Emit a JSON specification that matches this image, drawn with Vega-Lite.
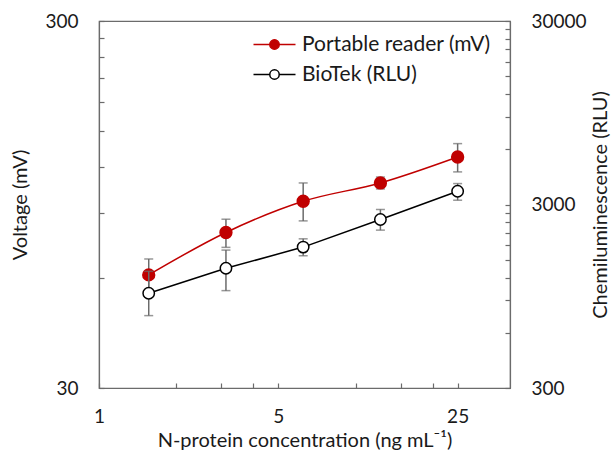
{
  "$schema": "https://vega.github.io/schema/vega-lite/v6.json",
  "width": 411,
  "height": 367,
  "autosize": {"type": "none"},
  "padding": {"left": 99, "top": 21, "right": 106, "bottom": 64},
  "background": "white",
  "config": {
    "font": "Lato",
    "view": {"stroke": "#6b6b6b", "strokeWidth": 1.2},
    "axis": {
      "grid": false,
      "domainColor": "#6b6b6b",
      "domainWidth": 1.2,
      "tickColor": "#6b6b6b",
      "tickWidth": 1.2,
      "tickSize": -5,
      "labelFont": "Lato",
      "labelFontSize": 19,
      "labelColor": "#1a1a1a",
      "titleFont": "Lato",
      "titleFontSize": 20,
      "titleFontWeight": "normal",
      "titleColor": "#1a1a1a",
      "labelOverlap": false,
      "labelFlush": false
    },
    "legend": {
      "orient": "none",
      "legendX": 164,
      "legendY": 12,
      "symbolType": "M-2,0H-0.45M0.45,0H2M0.45,0A0.45,0.45,0,1,1,-0.45,0A0.45,0.45,0,1,1,0.45,0Z",
      "symbolSize": 441,
      "symbolStrokeWidth": 1.5,
      "labelFont": "Lato",
      "labelFontSize": 21,
      "labelColor": "#1a1a1a",
      "labelOffset": 16,
      "labelLimit": 400,
      "rowPadding": 8
    }
  },
  "data": {
    "values": [
      {"conc": 1.5625, "series": "Portable reader (mV)", "value": 61.0, "lo": 55.1, "hi": 67.4},
      {"conc": 3.125, "series": "Portable reader (mV)", "value": 79.6, "lo": 72.5, "hi": 86.5},
      {"conc": 6.25, "series": "Portable reader (mV)", "value": 96.8, "lo": 85.6, "hi": 108.6},
      {"conc": 12.5, "series": "Portable reader (mV)", "value": 108.6, "lo": 104.6, "hi": 112.7},
      {"conc": 25, "series": "Portable reader (mV)", "value": 127.8, "lo": 116.4, "hi": 139.0},
      {"conc": 1.5625, "series": "BioTek (RLU)", "value": 985, "lo": 744, "hi": 1297},
      {"conc": 3.125, "series": "BioTek (RLU)", "value": 1347, "lo": 1018, "hi": 1693},
      {"conc": 6.25, "series": "BioTek (RLU)", "value": 1758, "lo": 1577, "hi": 1950},
      {"conc": 12.5, "series": "BioTek (RLU)", "value": 2486, "lo": 2175, "hi": 2818},
      {"conc": 25, "series": "BioTek (RLU)", "value": 3543, "lo": 3166, "hi": 3901}
    ]
  },
  "encoding": {
    "x": {
      "field": "conc",
      "type": "quantitative",
      "scale": {"type": "log", "domain": [1, 40]},
      "axis": {
        "title": "N-protein concentration (ng mL⁻¹)",
        "values": [1, 2, 3, 4, 5, 10, 15, 20, 25],
        "labelExpr": "indexof([1, 5, 25], datum.value) >= 0 ? format(datum.value, 'd') : ''",
        "labelPadding": 24,
        "titlePadding": 4
      }
    }
  },
  "layer": [
    {
      "transform": [{"filter": "datum.series == 'Portable reader (mV)'"}],
      "layer": [
        {
          "mark": {"type": "rule", "color": "#6b6b6b", "strokeWidth": 1.5},
          "encoding": {
            "y": {
              "field": "lo", "type": "quantitative",
              "scale": {"type": "log", "domain": [30, 300]},
              "axis": {"orient": "left", "title": "Voltage (mV)", "values": [30, 60, 90, 120, 150, 180, 210, 240, 270, 300], "labelExpr": "indexof([30, 300], datum.value) >= 0 ? format(datum.value, 'd') : ''", "labelPadding": 26, "titlePadding": 14}
            },
            "y2": {"field": "hi"}
          }
        },
        {
          "mark": {"type": "tick", "orient": "horizontal", "color": "#6b6b6b", "size": 9, "thickness": 1.5},
          "encoding": {
            "y": {
              "field": "lo", "type": "quantitative",
              "scale": {"type": "log", "domain": [30, 300]},
              "axis": {"orient": "left", "title": "Voltage (mV)", "values": [30, 60, 90, 120, 150, 180, 210, 240, 270, 300], "labelExpr": "indexof([30, 300], datum.value) >= 0 ? format(datum.value, 'd') : ''", "labelPadding": 26, "titlePadding": 14}
            }
          }
        },
        {
          "mark": {"type": "tick", "orient": "horizontal", "color": "#6b6b6b", "size": 9, "thickness": 1.5},
          "encoding": {
            "y": {
              "field": "hi", "type": "quantitative",
              "scale": {"type": "log", "domain": [30, 300]},
              "axis": {"orient": "left", "title": "Voltage (mV)", "values": [30, 60, 90, 120, 150, 180, 210, 240, 270, 300], "labelExpr": "indexof([30, 300], datum.value) >= 0 ? format(datum.value, 'd') : ''", "labelPadding": 26, "titlePadding": 14}
            }
          }
        },
        {
          "mark": {"type": "line", "strokeWidth": 1.5, "interpolate": "monotone"},
          "encoding": {
            "y": {
              "field": "value", "type": "quantitative",
              "scale": {"type": "log", "domain": [30, 300]},
              "axis": {"orient": "left", "title": "Voltage (mV)", "values": [30, 60, 90, 120, 150, 180, 210, 240, 270, 300], "labelExpr": "indexof([30, 300], datum.value) >= 0 ? format(datum.value, 'd') : ''", "labelPadding": 26, "titlePadding": 14}
            },
            "stroke": {
              "field": "series", "type": "nominal", "title": null,
              "scale": {"domain": ["Portable reader (mV)", "BioTek (RLU)"], "range": ["#c00000", "#000000"]}
            }
          }
        },
        {
          "mark": {"type": "point", "shape": "circle", "filled": true, "size": 140, "strokeWidth": 1.5, "opacity": 1},
          "encoding": {
            "y": {
              "field": "value", "type": "quantitative",
              "scale": {"type": "log", "domain": [30, 300]},
              "axis": {"orient": "left", "title": "Voltage (mV)", "values": [30, 60, 90, 120, 150, 180, 210, 240, 270, 300], "labelExpr": "indexof([30, 300], datum.value) >= 0 ? format(datum.value, 'd') : ''", "labelPadding": 26, "titlePadding": 14}
            },
            "stroke": {"field": "series", "type": "nominal", "title": null},
            "fill": {
              "field": "series", "type": "nominal", "title": null,
              "scale": {"domain": ["Portable reader (mV)", "BioTek (RLU)"], "range": ["#c00000", "#ffffff"]}
            }
          }
        }
      ]
    },
    {
      "transform": [{"filter": "datum.series == 'BioTek (RLU)'"}],
      "layer": [
        {
          "mark": {"type": "rule", "color": "#6b6b6b", "strokeWidth": 1.5},
          "encoding": {
            "y": {
              "field": "lo", "type": "quantitative",
              "scale": {"type": "log", "domain": [300, 30000]},
              "axis": {"orient": "right", "title": "Chemiluminescence (RLU)", "titleAngle": 270, "titleBaseline": "top", "values": [300, 600, 900, 1200, 1500, 1800, 2100, 2400, 2700, 3000, 6000, 9000, 12000, 15000, 18000, 21000, 24000, 27000, 30000], "labelExpr": "indexof([300, 3000, 30000], datum.value) >= 0 ? format(datum.value, 'd') : ''", "labelPadding": 26, "titlePadding": 4}
            },
            "y2": {"field": "hi"}
          }
        },
        {
          "mark": {"type": "tick", "orient": "horizontal", "color": "#6b6b6b", "size": 9, "thickness": 1.5},
          "encoding": {
            "y": {
              "field": "lo", "type": "quantitative",
              "scale": {"type": "log", "domain": [300, 30000]},
              "axis": {"orient": "right", "title": "Chemiluminescence (RLU)", "titleAngle": 270, "titleBaseline": "top", "values": [300, 600, 900, 1200, 1500, 1800, 2100, 2400, 2700, 3000, 6000, 9000, 12000, 15000, 18000, 21000, 24000, 27000, 30000], "labelExpr": "indexof([300, 3000, 30000], datum.value) >= 0 ? format(datum.value, 'd') : ''", "labelPadding": 26, "titlePadding": 4}
            }
          }
        },
        {
          "mark": {"type": "tick", "orient": "horizontal", "color": "#6b6b6b", "size": 9, "thickness": 1.5},
          "encoding": {
            "y": {
              "field": "hi", "type": "quantitative",
              "scale": {"type": "log", "domain": [300, 30000]},
              "axis": {"orient": "right", "title": "Chemiluminescence (RLU)", "titleAngle": 270, "titleBaseline": "top", "values": [300, 600, 900, 1200, 1500, 1800, 2100, 2400, 2700, 3000, 6000, 9000, 12000, 15000, 18000, 21000, 24000, 27000, 30000], "labelExpr": "indexof([300, 3000, 30000], datum.value) >= 0 ? format(datum.value, 'd') : ''", "labelPadding": 26, "titlePadding": 4}
            }
          }
        },
        {
          "mark": {"type": "line", "strokeWidth": 1.5, "interpolate": "linear"},
          "encoding": {
            "y": {
              "field": "value", "type": "quantitative",
              "scale": {"type": "log", "domain": [300, 30000]},
              "axis": {"orient": "right", "title": "Chemiluminescence (RLU)", "titleAngle": 270, "titleBaseline": "top", "values": [300, 600, 900, 1200, 1500, 1800, 2100, 2400, 2700, 3000, 6000, 9000, 12000, 15000, 18000, 21000, 24000, 27000, 30000], "labelExpr": "indexof([300, 3000, 30000], datum.value) >= 0 ? format(datum.value, 'd') : ''", "labelPadding": 26, "titlePadding": 4}
            },
            "stroke": {"field": "series", "type": "nominal", "title": null}
          }
        },
        {
          "mark": {"type": "point", "shape": "circle", "filled": true, "size": 130, "strokeWidth": 1.5, "opacity": 1},
          "encoding": {
            "y": {
              "field": "value", "type": "quantitative",
              "scale": {"type": "log", "domain": [300, 30000]},
              "axis": {"orient": "right", "title": "Chemiluminescence (RLU)", "titleAngle": 270, "titleBaseline": "top", "values": [300, 600, 900, 1200, 1500, 1800, 2100, 2400, 2700, 3000, 6000, 9000, 12000, 15000, 18000, 21000, 24000, 27000, 30000], "labelExpr": "indexof([300, 3000, 30000], datum.value) >= 0 ? format(datum.value, 'd') : ''", "labelPadding": 26, "titlePadding": 4}
            },
            "stroke": {"field": "series", "type": "nominal", "title": null},
            "fill": {"field": "series", "type": "nominal", "title": null}
          }
        }
      ]
    }
  ],
  "resolve": {"scale": {"y": "independent"}}
}
